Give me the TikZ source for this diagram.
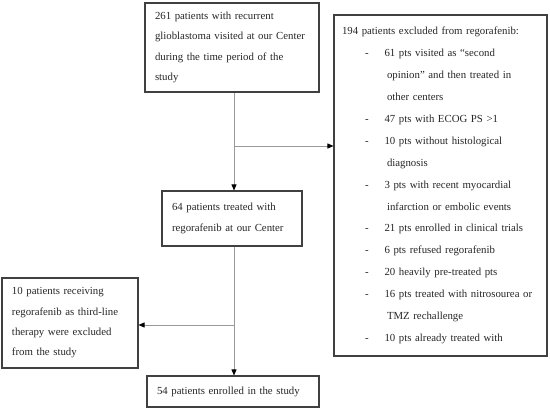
\documentclass[tikz,border=0pt]{standalone}
\usepackage{fontspec}
\setmainfont{Liberation Serif}
\usetikzlibrary{arrows.meta}
\newcommand\itm[1]{\mbox{\hspace*{23pt}-\hspace{16pt}#1}}
\newcommand\cnt[1]{\mbox{\hspace*{45pt}#1}}
\tikzset{
  box/.style={draw=black!75, line width=1.1pt, text=black!85, align=left, anchor=center,
    inner xsep=10pt, inner ysep=0pt},
  conn/.style={draw=black!40, line width=0.9pt,
    -{Triangle[length=6pt,width=5pt,color=black]}},
  plain/.style={draw=black!40, line width=0.9pt}
}
\begin{document}
\begin{tikzpicture}[x=1pt,y=-1pt]
\useasboundingbox (0,0) rectangle (550,409);
\node[box, minimum width=172pt, minimum height=89pt, text width=154pt,
  font=\fontsize{10.8}{20.5}\selectfont] (b1) at (232,47.5)
  {\mbox{261 patients with recurrent}\\\mbox{glioblastoma visited at our Center}\\\mbox{during the time period of the}\\study};
\node[box, minimum width=213pt, minimum height=341pt, text width=197pt, inner xsep=8pt,
  font=\fontsize{10.8}{21.9}\selectfont] (ex) at (440.5,185.5)
  {\mbox{194 patients excluded from regorafenib:}\\
   \itm{61 pts visited as ``second}\\
   \cnt{opinion'' and then treated in}\\
   \cnt{other centers}\\
   \itm{47 pts with ECOG PS >1}\\
   \itm{10 pts without histological}\\
   \cnt{diagnosis}\\
   \itm{3 pts with recent myocardial}\\
   \cnt{infarction or embolic events}\\
   \itm{21 pts enrolled in clinical trials}\\
   \itm{6 pts refused regorafenib}\\
   \itm{20 heavily pre-treated pts}\\
   \itm{16 pts treated with nitrosourea or}\\
   \cnt{TMZ rechallenge}\\
   \itm{10 pts already treated with}};
\node[box, minimum width=138pt, minimum height=55pt, text width=120pt,
  font=\fontsize{10.8}{20.5}\selectfont] (b64) at (232,218.5)
  {\mbox{64 patients treated with}\\\mbox{regorafenib at our Center}};
\node[box, minimum width=134pt, minimum height=90pt, text width=116pt,
  font=\fontsize{10.8}{20.3}\selectfont] (b10) at (70,323)
  {\mbox{10 patients receiving}\\\mbox{regorafenib as third-line}\\\mbox{therapy were excluded}\\\mbox{from the study}};
\node[box, minimum width=170pt, minimum height=31pt, text width=152pt,
  font=\fontsize{10.8}{20.5}\selectfont] (b54) at (233,391.5)
  {\mbox{54 patients enrolled in the study}};
\coordinate (v) at (234,0);
\coordinate (j1) at (234,146);
\coordinate (j2) at (234,325);
\draw[conn] (b1.south -| v) -- (b64.north -| v);
\draw[conn] (j1) -- (j1 -| ex.west);
\draw[conn] (b64.south -| v) -- (b54.north -| v);
\draw[conn] (j2) -- (j2 -| b10.east);
\end{tikzpicture}
\end{document}
